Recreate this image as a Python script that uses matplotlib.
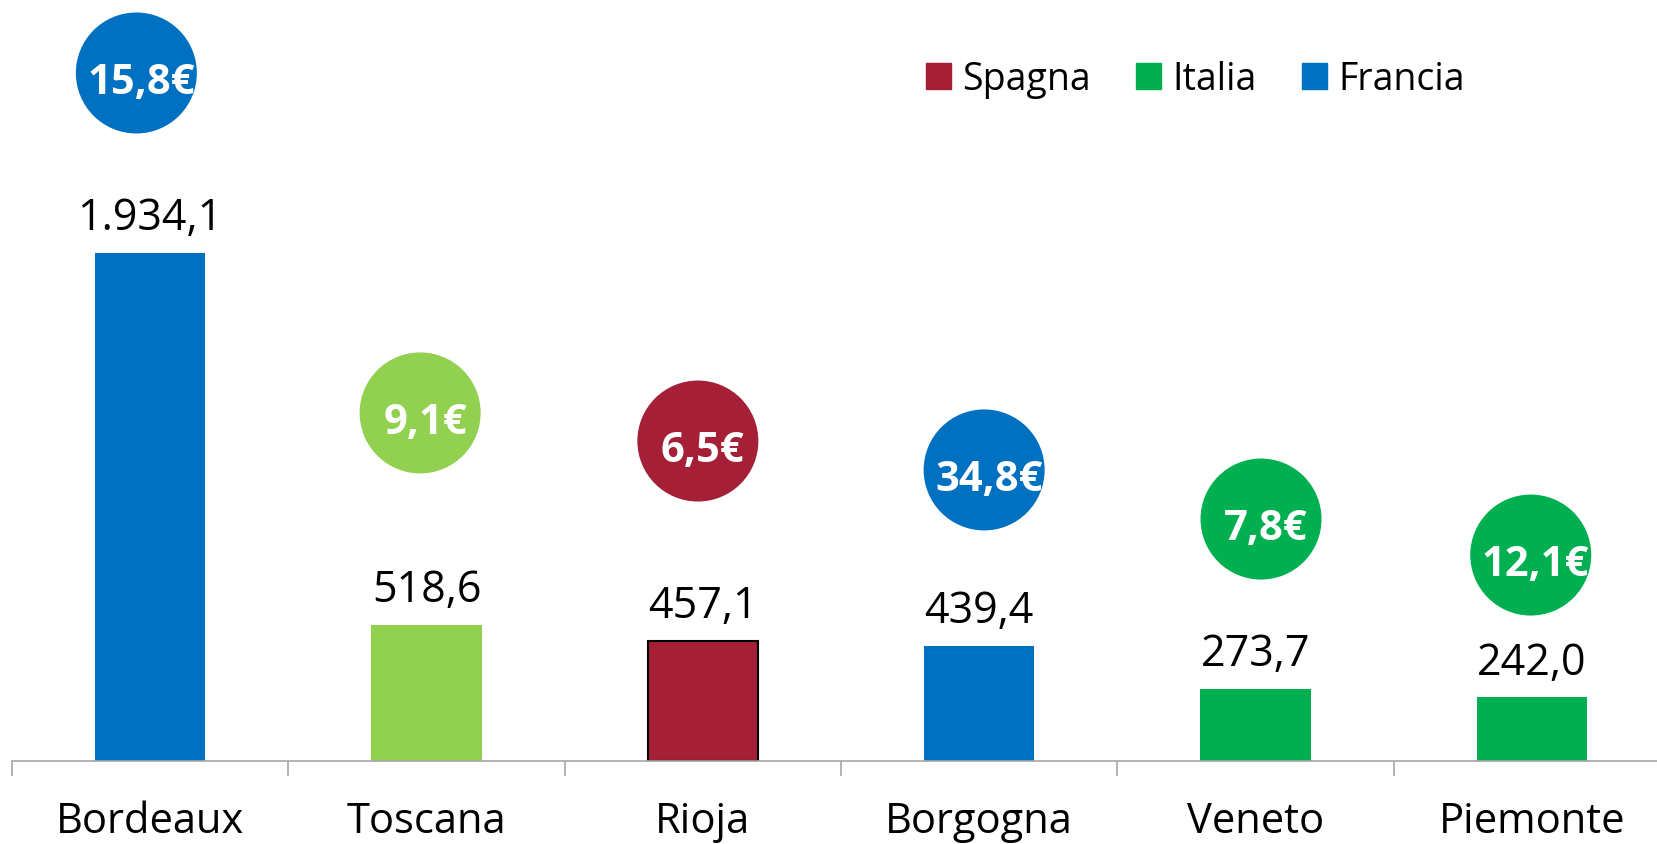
import matplotlib
matplotlib.use("Agg")
import matplotlib.pyplot as plt
import matplotlib.patches as mpatches
import matplotlib.transforms as mtransforms

plt.rcParams['font.family'] = ['Open Sans', 'DejaVu Sans']

regions = ['Bordeaux', 'Toscana', 'Rioja', 'Borgogna', 'Veneto', 'Piemonte']
values = [1934.1, 518.6, 457.1, 439.4, 273.7, 242.0]
value_labels = ['1.934,1', '518,6', '457,1', '439,4', '273,7', '242,0']
prices = ['15,8€', '9,1€', '6,5€', '34,8€', '7,8€', '12,1€']
country = ['Francia', 'Italia', 'Spagna', 'Francia', 'Italia', 'Italia']

# bubble placement (layout only)
bubble_y = [2619, 1325, 1218, 1108, 921, 784]
bubble_dx = [-0.05, -0.023, -0.018, 0.018, 0.02, -0.004]

RED = '#A52036'
GREEN = '#00B050'
LIGHT_GREEN = '#92D050'
BLUE = '#0070C0'
bar_colors = [BLUE, LIGHT_GREEN, RED, BLUE, GREEN, GREEN]

W, H = 1657, 845
fig = plt.figure(figsize=(W / 100, H / 100), dpi=100)
ax = fig.add_axes([12 / W, 83 / H, 1658 / W, 762 / H])
ax.set_xlim(-0.5, 5.5)
ax.set_ylim(0, 762 / 0.2627)

x = list(range(len(regions)))
bars = ax.bar(x, values, width=0.4, color=bar_colors, zorder=2)
bars[2].set_edgecolor('black')
bars[2].set_linewidth(1.5)

for i, v in enumerate(values):
    ax.annotate(value_labels[i], (i, v), xytext=(0, 17), textcoords='offset points',
                ha='center', va='baseline', fontsize=31, color='black')
    ax.annotate(regions[i], (i, 0), xytext=(0, -51), textcoords='offset points',
                ha='center', va='baseline', fontsize=30, color='black',
                annotation_clip=False)

# price bubbles
R = 0.605  # inches
for i in range(len(regions)):
    off = mtransforms.ScaledTranslation(i + bubble_dx[i], bubble_y[i], ax.transData)
    tr = fig.dpi_scale_trans + off
    circ = mpatches.Circle((0, 0), R, transform=tr, facecolor=bar_colors[i],
                           edgecolor='none', zorder=3, clip_on=False)
    ax.add_patch(circ)
    t = ax.text(0.05, -0.20, prices[i], transform=tr, ha='center', va='baseline',
                fontsize=30, fontweight='bold', color='white', zorder=4)
    t.set_clip_path(circ)

# axis styling
for s in ['top', 'right', 'left']:
    ax.spines[s].set_visible(False)
ax.spines['bottom'].set_color('#A6A6A6')
ax.spines['bottom'].set_linewidth(1.2)
ax.set_yticks([])
ax.set_xticks([])
ax.set_xticks([i - 0.5 for i in range(len(regions) + 1)], minor=True)
ax.tick_params(axis='x', which='minor', length=11, width=1.2, color='#A6A6A6',
               labelbottom=False)

handles = [mpatches.Patch(color=RED, label='Spagna'),
           mpatches.Patch(color=GREEN, label='Italia'),
           mpatches.Patch(color=BLUE, label='Francia')]
fig.legend(handles=handles, loc='center', bbox_to_anchor=(1195.5 / W, 1 - 80 / H),
           ncol=3, frameon=False, fontsize=27, handlelength=0.67, handleheight=0.67,
           handletextpad=0.3, columnspacing=1.2, borderpad=0)

fig.savefig('out.png', dpi=100)
